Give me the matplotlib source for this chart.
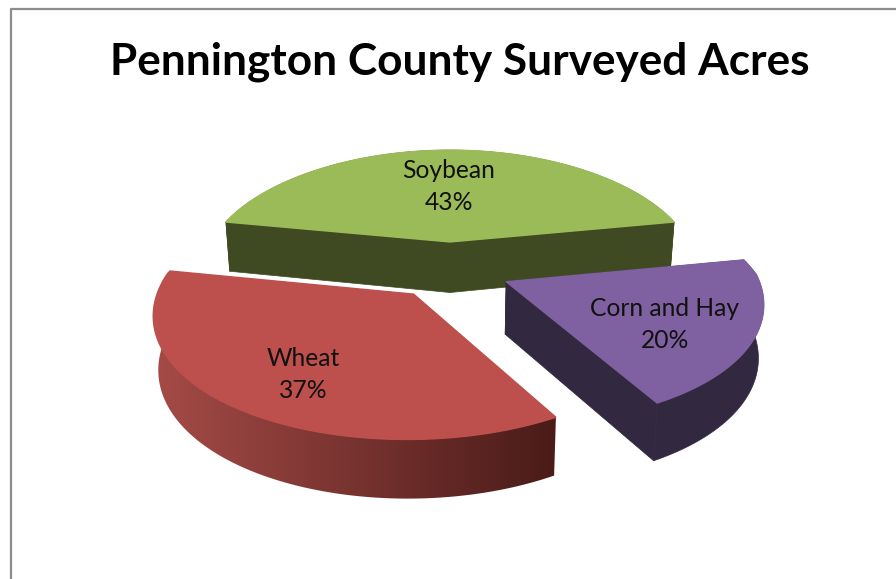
import numpy as np
from matplotlib import pyplot as plt
from matplotlib.colors import LinearSegmentedColormap
from matplotlib.patches import Polygon

categories = ['Soybean', 'Corn and Hay', 'Wheat']
shares = [43, 20, 37]
title = 'Pennington County Surveyed Acres'

top_colors = ['#9bbb59', '#7f60a0', '#bd4f4c']
side_colors = ['#404a22', '#32283f', None]
wheat_side = ['#a54b47', '#4a1b18']
label_pos = [(449, 171), (665, 308), (303, 359)]

# pie geometry, in pixels
cx, cy = 450, 269.8
A, B = 252, 122
k_back, k_front = 0.213, 0.118
explode = 0.24


def project(u, v, bottom=False):
    w = 1 + np.where(v > 0, k_back, k_front)*v
    x = A*u/w
    y = B*v/w - 3.3*u**2
    if bottom:
        x = x*0.983
        y = y - (52 - 6*v)
    return cx + x, cy - y


def slice_outline(a0, a1, bottom=False):
    # a0, a1 in radians, clockwise from the back of the pie
    mid = (a0 + a1)/2
    du, dv = explode*np.sin(mid), explode*np.cos(mid)
    a = np.linspace(a0, a1, 120)
    u = np.r_[du, du + np.sin(a)]
    v = np.r_[dv, dv + np.cos(a)]
    return np.column_stack(project(u, v, bottom))


def arc_side(a0, a1):
    mid = (a0 + a1)/2
    du, dv = explode*np.sin(mid), explode*np.cos(mid)
    a = np.linspace(a0, a1, 120)
    u, v = du + np.sin(a), dv + np.cos(a)
    upper = np.column_stack(project(u, v))
    lower = np.column_stack(project(u, v, True))
    return np.vstack([upper, lower[::-1]])


fig = plt.figure(figsize=(8.96, 5.79), dpi=100)
ax = fig.add_axes([0, 0, 1, 1])
ax.axis('off')

fracs = np.array(shares)/sum(shares)
start = -np.pi*fracs[0]
edges = start + 2*np.pi*np.r_[0, np.cumsum(fracs)]

for i in range(3):
    a0, a1 = edges[i], edges[i + 1]
    top = slice_outline(a0, a1)
    low = slice_outline(a0, a1, True)
    if categories[i] == 'Wheat':
        # only the outer wall shows, shaded left to right
        wall = arc_side(a0, a1)
        cmap = LinearSegmentedColormap.from_list('wall', wheat_side)
        im = ax.imshow(np.linspace(0, 1, 256)[None, :], cmap=cmap, aspect='auto', zorder=i + 1,
                       extent=(wall[:, 0].min(), wall[:, 0].max(), wall[:, 1].max(), wall[:, 1].min()))
        clip = Polygon(wall, transform=ax.transData)
        im.set_clip_path(clip)
    else:
        # walls: the two cut faces and the outer rim
        c = side_colors[i]
        ax.add_patch(Polygon(arc_side(a0, a1), fc=c, ec=c, lw=0.5, zorder=i + 1))
        ax.add_patch(Polygon(np.vstack([top[[0, 1]], low[[1, 0]]]), fc=c, ec=c, lw=0.5, zorder=i + 1))
        ax.add_patch(Polygon(np.vstack([top[[0, -1]], low[[-1, 0]]]), fc=c, ec=c, lw=0.5, zorder=i + 1))
    ax.add_patch(Polygon(top, fc=top_colors[i], ec=top_colors[i], lw=1.0, zorder=i + 1.5))
    ax.text(label_pos[i][0], label_pos[i][1], categories[i], family='Lato', fontsize=17.7,
            color='#111111', ha='center', va='center', zorder=5)
    ax.text(label_pos[i][0], label_pos[i][1] + 32, '%d%%' % shares[i], family='Lato', fontsize=17.7,
            color='#111111', ha='center', va='center', zorder=5)

ax.text(460, 62, title, family='Lato', fontweight='bold', fontsize=31.8, color='black',
        ha='center', va='center', zorder=5)

# chart area border, open past the right and bottom of the image
ax.plot([10.5, 10.5, 900], [590, 9, 9], color='#8c8c8c', lw=1.6, zorder=6)

ax.set_xlim(0, 896)
ax.set_ylim(579, 0)
plt.savefig('out.png', dpi=100)
